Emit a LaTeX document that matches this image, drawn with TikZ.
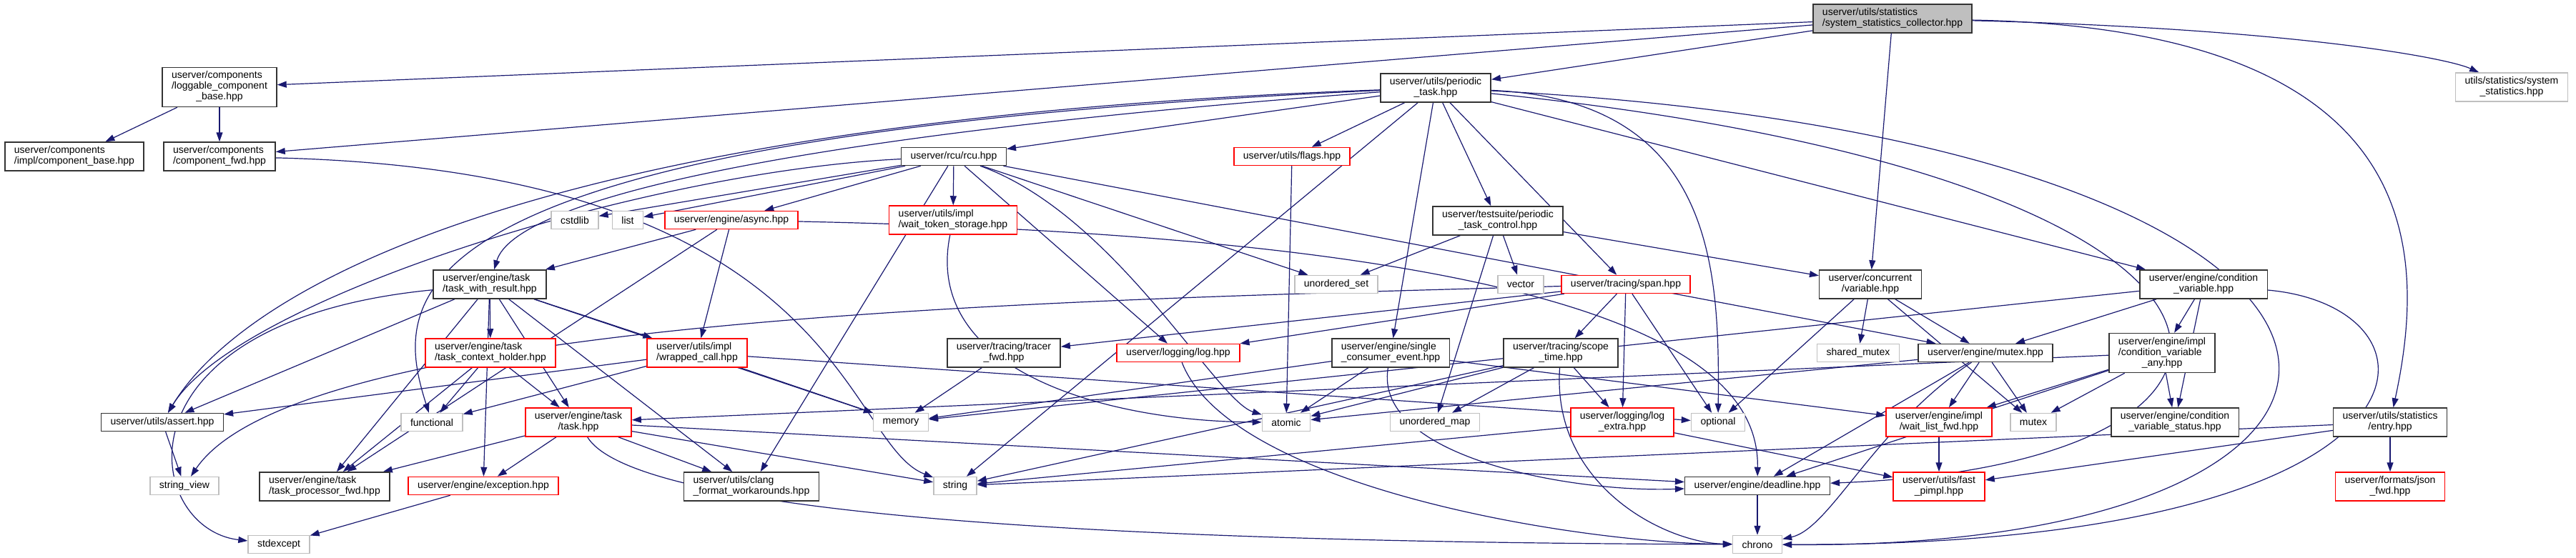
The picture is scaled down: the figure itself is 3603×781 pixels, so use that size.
\documentclass[tikz,border=0pt]{standalone}
\usepackage{fontspec}
\setmainfont{Liberation Sans}
\usepackage{tikz}
\usetikzlibrary{arrows.meta,positioning,backgrounds}
\definecolor{edgeblue}{HTML}{191970}
\definecolor{boxgrey}{HTML}{BFBFBF}
\newcommand{\lbltwo}[2]{\begin{tabular}{@{}l@{}}#1\\\multicolumn{1}{@{}c@{}}{#2}\end{tabular}}
\newcommand{\lblthree}[3]{\begin{tabular}{@{}l@{}}#1\\#2\\\multicolumn{1}{@{}c@{}}{#3}\end{tabular}}

\begin{document}
\begin{tikzpicture}[
  x=1pt, y=-1pt,
  hdr/.style={draw=black!80, line width=1.5pt, fill=white, inner xsep=13pt, inner ysep=5pt, minimum height=25pt, font=\fontsize{14}{15}\selectfont},
  hdrred/.style={hdr, draw=red},
  sysinc/.style={hdr, draw=boxgrey},
  rootnode/.style={hdr, fill=boxgrey},
  arr/.style={-{Stealth[length=13pt, width=9pt, inset=0pt]}, edgeblue, line width=1.2pt},
]
  \useasboundingbox (0,0) rectangle (3603,781);

  \node[rootnode] (root) at (2647,26) {\lbltwo{userver/utils/statistics}{/system\_statistics\_collector.hpp}};

  \node[hdr] (loggable) at (307,122) {\lblthree{userver/components}{/loggable\_component}{\_base.hpp}};
  \node[hdr] (periodic) at (2008,123) {\lbltwo{userver/utils/periodic}{\_task.hpp}};
  \node[sysinc] (sysstats) at (3513,122) {\lbltwo{utils/statistics/system}{\_statistics.hpp}};

  \node[hdr] (compbase) at (104,219) {\lbltwo{userver/components}{/impl/component\_base.hpp}};
  \node[hdr] (compfwd) at (307,219) {\lbltwo{userver/components}{/component\_fwd.hpp}};
  \node[hdr] (rcu) at (1334,219) {userver/rcu/rcu.hpp};
  \node[hdrred] (flags) at (1807,219) {userver/utils/flags.hpp};

  \node[sysinc] (cstdlib) at (804,308) {cstdlib};
  \node[sysinc] (list) at (878,308) {list};
  \node[hdrred] (async) at (1023,308) {userver/engine/async.hpp};
  \node[hdrred] (waittoken) at (1333,308) {\lbltwo{userver/utils/impl}{/wait\_token\_storage.hpp}};
  \node[hdr] (control) at (2095,309) {\lbltwo{userver/testsuite/periodic}{\_task\_control.hpp}};

  \node[hdr] (twr) at (685,398) {\lbltwo{userver/engine/task}{/task\_with\_result.hpp}};
  \node[sysinc] (unordset) at (1869,398) {unordered\_set};
  \node[sysinc] (vector) at (2127,398) {vector};
  \node[hdrred] (span) at (2274,398) {userver/tracing/span.hpp};
  \node[hdr] (variable) at (2616,398) {\lbltwo{userver/concurrent}{/variable.hpp}};
  \node[hdr] (condvar) at (3082,398) {\lbltwo{userver/engine/condition}{\_variable.hpp}};

  \node[hdrred] (tch) at (686,494) {\lbltwo{userver/engine/task}{/task\_context\_holder.hpp}};
  \node[hdrred] (wrapped) at (975,494) {\lbltwo{userver/utils/impl}{/wrapped\_call.hpp}};
  \node[hdr] (tracerfwd) at (1404,494) {\lbltwo{userver/tracing/tracer}{\_fwd.hpp}};
  \node[hdrred] (loghpp) at (1648,494) {userver/logging/log.hpp};
  \node[hdr] (sce) at (1945,494) {\lbltwo{userver/engine/single}{\_consumer\_event.hpp}};
  \node[hdr] (scopetime) at (2183,494) {\lbltwo{userver/tracing/scope}{\_time.hpp}};
  \node[sysinc] (sharedmutex) at (2599,494) {shared\_mutex};
  \node[hdr] (mutexhpp) at (2777,494) {userver/engine/mutex.hpp};
  \node[hdr] (cva) at (3024,494) {\lblthree{userver/engine/impl}{/condition\_variable}{\_any.hpp}};

  \node[hdr] (assert) at (227,591) {userver/utils/assert.hpp};
  \node[sysinc] (functional) at (604,591) {functional};
  \node[hdrred] (taskhpp) at (809,591) {\lbltwo{userver/engine/task}{/task.hpp}};
  \node[sysinc] (memory) at (1260,591) {memory};
  \node[sysinc] (atomic) at (1799,591) {atomic};
  \node[sysinc] (unordmap) at (2007,591) {unordered\_map};
  \node[hdrred] (logextra) at (2269,591) {\lbltwo{userver/logging/log}{\_extra.hpp}};
  \node[sysinc] (optional) at (2403,591) {optional};
  \node[hdrred] (waitlist) at (2712,591) {\lbltwo{userver/engine/impl}{/wait\_list\_fwd.hpp}};
  \node[sysinc] (mutex) at (2844,591) {mutex};
  \node[hdr] (cvstatus) at (3042,591) {\lbltwo{userver/engine/condition}{\_variable\_status.hpp}};
  \node[hdr] (entry) at (3343,591) {\lbltwo{userver/utils/statistics}{/entry.hpp}};

  \node[sysinc] (stringview) at (258,680) {string\_view};
  \node[hdr] (tpfwd) at (454,681) {\lbltwo{userver/engine/task}{/task\_processor\_fwd.hpp}};
  \node[hdrred] (exception) at (676,680) {userver/engine/exception.hpp};
  \node[hdr] (clang) at (1051,681) {\lbltwo{userver/utils/clang}{\_format\_workarounds.hpp}};
  \node[sysinc] (string) at (1336,680) {string};
  \node[hdr] (deadline) at (2458,680) {userver/engine/deadline.hpp};
  \node[hdrred] (fastpimpl) at (2712,681) {\lbltwo{userver/utils/fast}{\_pimpl.hpp}};
  \node[hdrred] (jsonfwd) at (3343,681) {\lbltwo{userver/formats/json}{\_fwd.hpp}};

  \node[sysinc] (stdexcept) at (390,762) {stdexcept};
  \node[sysinc] (chrono) at (2458,762) {chrono};

  \begin{scope}[on background layer]
  \draw[arr] (root) -- (loggable);
  \draw[arr] (root) -- (compfwd);
  \draw[arr] (root) -- (periodic);
  \draw[arr] (root) -- (variable);
  \draw[arr] (root) .. controls (3200,40) and (3420,80) .. (sysstats);
  \draw[arr] (root) .. controls (3395,40) and (3395,350) .. (entry);
  \draw[arr] (loggable) -- (compbase);
  \draw[arr] (loggable) -- (compfwd);
  \draw[arr] (compfwd) .. controls (1180,240) and (1180,620) .. (string);
  \draw[arr] (periodic) -- (rcu);
  \draw[arr] (periodic) -- (flags);
  \draw[arr] (periodic) -- (control);
  \draw[arr] (periodic) -- (span);
  \draw[arr] (periodic) -- (sce);
  \draw[arr] (periodic) .. controls (1100,190) and (720,280) .. (twr);
  \draw[arr] (periodic) .. controls (700,170) and (330,420) .. (assert);
  \draw[arr] (periodic) .. controls (520,190) and (550,420) .. (functional);
  \draw[arr] (periodic) .. controls (2400,140) and (2405,380) .. (optional);
  \draw[arr] (periodic) -- (string);
  \draw[arr] (periodic) .. controls (3470,200) and (3480,770) .. (chrono);
  \draw[arr] (periodic) .. controls (3250,250) and (3260,650) .. (deadline);
  \draw[arr] (periodic) -- (condvar);
  \draw[arr] (rcu) -- (cstdlib);
  \draw[arr] (rcu) -- (list);
  \draw[arr] (rcu) -- (async);
  \draw[arr] (rcu) -- (waittoken);
  \draw[arr] (rcu) -- (loghpp);
  \draw[arr] (rcu) -- (mutexhpp);
  \draw[arr] (rcu) -- (unordset);
  \draw[arr] (rcu) .. controls (900,240) and (330,420) .. (assert);
  \draw[arr] (rcu) .. controls (1560,300) and (1700,560) .. (atomic);
  \draw[arr] (rcu) -- (clang);
  \draw[arr] (flags) -- (atomic);
  \draw[arr] (async) -- (twr);
  \draw[arr] (async) -- (wrapped);
  \draw[arr] (async) -- (tpfwd);
  \draw[arr] (async) .. controls (2300,335) and (2460,520) .. (deadline);
  \draw[arr] (waittoken) .. controls (1290,520) and (1550,590) .. (atomic);
  \draw[arr] (control) -- (unordset);
  \draw[arr] (control) -- (vector);
  \draw[arr] (control) -- (unordmap);
  \draw[arr] (control) -- (variable);
  \draw[arr] (twr) -- (tch);
  \draw[arr] (twr) -- (taskhpp);
  \draw[arr] (twr) -- (wrapped);
  \draw[arr] (twr) -- (memory);
  \draw[arr] (twr) -- (assert);
  \draw[arr] (twr) .. controls (150,450) and (200,740) .. (stdexcept);
  \draw[arr] (twr) -- (tpfwd);
  \draw[arr] (twr) -- (exception);
  \draw[arr] (twr) -- (clang);
  \draw[arr] (tch) -- (functional);
  \draw[arr] (tch) -- (tpfwd);
  \draw[arr] (tch) -- (taskhpp);
  \draw[arr] (wrapped) -- (memory);
  \draw[arr] (wrapped) -- (functional);
  \draw[arr] (wrapped) -- (assert);
  \draw[arr] (wrapped) -- (optional);
  \draw[arr] (taskhpp) -- (tpfwd);
  \draw[arr] (taskhpp) -- (exception);
  \draw[arr] (taskhpp) -- (clang);
  \draw[arr] (taskhpp) -- (string);
  \draw[arr] (taskhpp) .. controls (900,740) and (1800,760) .. (chrono);
  \draw[arr] (taskhpp) -- (deadline);
  \draw[arr] (exception) -- (stdexcept);
  \draw[arr] (assert) -- (stringview);
  \draw[arr] (span) -- (scopetime);
  \draw[arr] (span) -- (logextra);
  \draw[arr] (span) -- (optional);
  \draw[arr] (span) -- (tracerfwd);
  \draw[arr] (span) -- (loghpp);
  \draw[arr] (span) .. controls (1500,420) and (420,440) .. (stringview);
  \draw[arr] (scopetime) -- (atomic);
  \draw[arr] (scopetime) -- (unordmap);
  \draw[arr] (scopetime) -- (logextra);
  \draw[arr] (scopetime) .. controls (2170,680) and (2330,760) .. (chrono);
  \draw[arr] (scopetime) -- (string);
  \draw[arr] (sce) -- (atomic);
  \draw[arr] (sce) .. controls (1920,640) and (2200,690) .. (deadline);
  \draw[arr] (sce) -- (memory);
  \draw[arr] (sce) -- (waitlist);
  \draw[arr] (tracerfwd) -- (memory);
  \draw[arr] (loghpp) .. controls (1720,680) and (2200,760) .. (chrono);
  \draw[arr] (logextra) -- (string);
  \draw[arr] (logextra) -- (fastpimpl);
  \draw[arr] (variable) -- (optional);
  \draw[arr] (variable) -- (sharedmutex);
  \draw[arr] (variable) -- (mutexhpp);
  \draw[arr] (variable) -- (mutex);
  \draw[arr] (condvar) -- (mutexhpp);
  \draw[arr] (condvar) -- (cva);
  \draw[arr] (condvar) -- (cvstatus);
  \draw[arr] (condvar) -- (memory);
  \draw[arr] (condvar) .. controls (3440,430) and (3440,765) .. (chrono);
  \draw[arr] (cva) -- (cvstatus);
  \draw[arr] (cva) -- (waitlist);
  \draw[arr] (cva) -- (mutex);
  \draw[arr] (cva) -- (deadline);
  \draw[arr] (cva) -- (taskhpp);
  \draw[arr] (mutexhpp) -- (waitlist);
  \draw[arr] (mutexhpp) -- (mutex);
  \draw[arr] (mutexhpp) -- (deadline);
  \draw[arr] (mutexhpp) .. controls (2620,600) and (2560,740) .. (chrono);
  \draw[arr] (mutexhpp) -- (atomic);
  \draw[arr] (waitlist) -- (fastpimpl);
  \draw[arr] (deadline) -- (chrono);
  \draw[arr] (entry) -- (jsonfwd);
  \draw[arr] (entry) -- (fastpimpl);
  \draw[arr] (entry) -- (string);
  \end{scope}
\end{tikzpicture}
\end{document}
